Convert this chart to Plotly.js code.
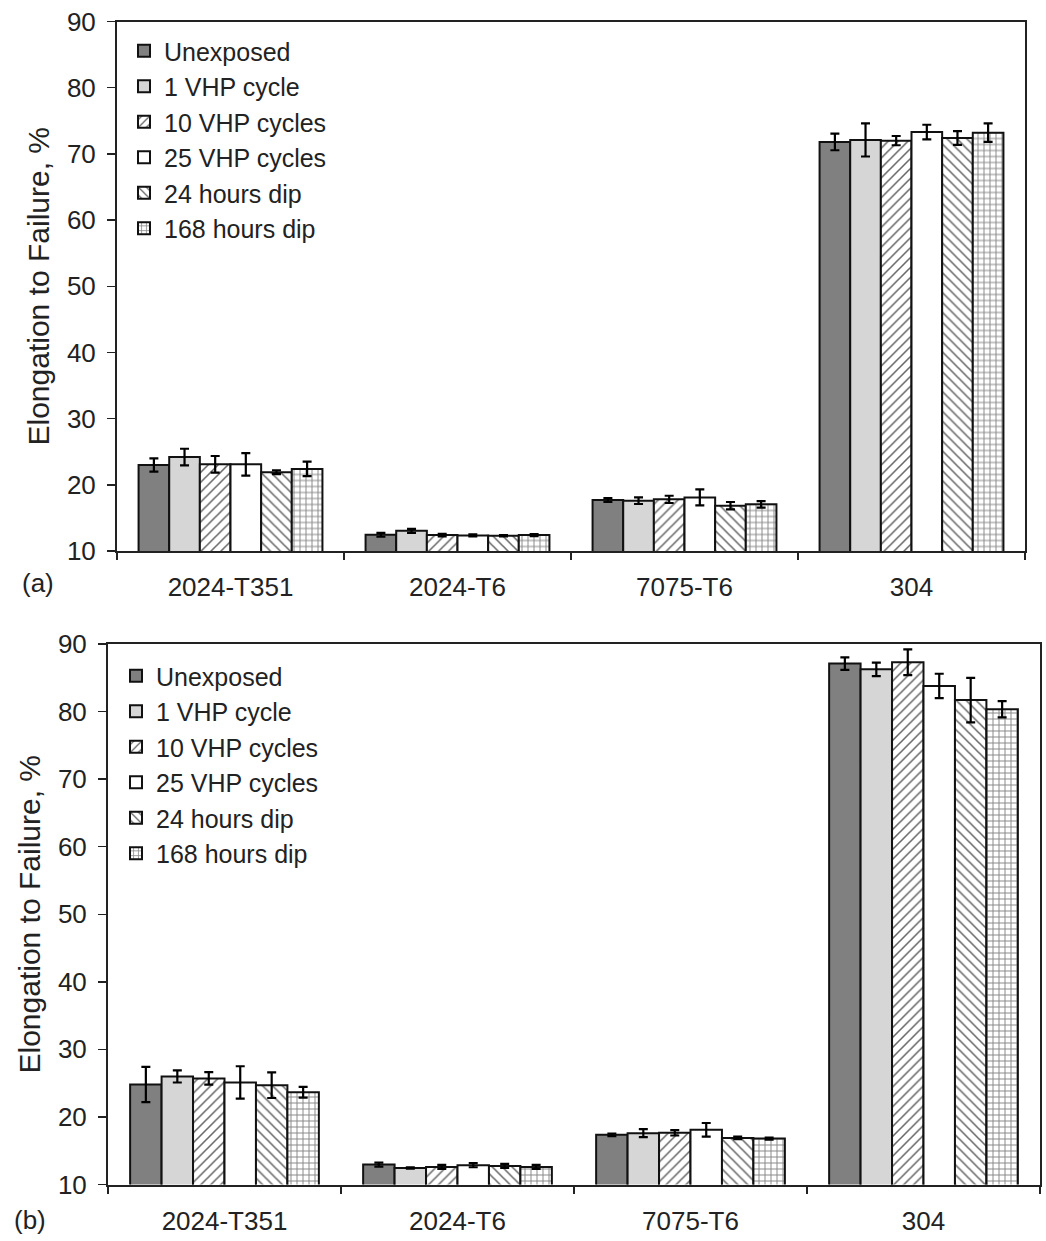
<!DOCTYPE html>
<html>
<head>
<meta charset="utf-8">
<script src="https://cdn.plot.ly/plotly-3.0.1.min.js"></script>
<style>
html,body{margin:0;padding:0;background:#fff;}
#chart{width:1046px;height:1241px;}
</style>
</head>
<body>
<div id="chart"></div>
<script>
// ---- data ----
const categories = ['2024-T351', '2024-T6', '7075-T6', '304'];
const seriesNames = ['Unexposed', '1 VHP cycle', '10 VHP cycles', '25 VHP cycles', '24 hours dip', '168 hours dip'];

// (a)
const unexposedA    = [23.0, 12.45, 17.7, 71.8];
const oneVhpA       = [24.2, 13.05, 17.6, 72.1];
const tenVhpA       = [23.1, 12.4, 17.8, 72.0];
const twentyFiveA   = [23.1, 12.35, 18.1, 73.3];
const dip24A        = [21.9, 12.3, 16.85, 72.4];
const dip168A       = [22.4, 12.4, 17.05, 73.2];
const errUnexposedA = [1.0, 0.3, 0.3, 1.25];
const errOneVhpA    = [1.25, 0.3, 0.5, 2.5];
const errTenVhpA    = [1.25, 0.2, 0.55, 0.7];
const errTwentyFiveA= [1.7, 0.15, 1.2, 1.1];
const errDip24A     = [0.3, 0.1, 0.55, 1.05];
const errDip168A    = [1.1, 0.15, 0.5, 1.4];

// (b)
const unexposedB    = [24.8, 12.95, 17.35, 87.1];
const oneVhpB       = [26.0, 12.45, 17.6, 86.25];
const tenVhpB       = [25.7, 12.6, 17.65, 87.3];
const twentyFiveB   = [25.1, 12.85, 18.1, 83.8];
const dip24B        = [24.7, 12.75, 16.9, 81.7];
const dip168B       = [23.65, 12.6, 16.8, 80.35];
const errUnexposedB = [2.6, 0.3, 0.2, 0.93];
const errOneVhpB    = [0.9, 0.1, 0.6, 1.0];
const errTenVhpB    = [0.93, 0.3, 0.4, 1.9];
const errTwentyFiveB= [2.4, 0.3, 1.0, 1.8];
const errDip24B     = [1.9, 0.3, 0.2, 3.3];
const errDip168B    = [0.8, 0.3, 0.15, 1.2];

const yTitle = 'Elongation to Failure, %';
const panelLabels = ['(a)', '(b)'];

// ---- styles ----
const FONT = 'Liberation Sans, Arial, sans-serif';
const styles = [
  {color: '#808080', pattern: {shape: ''}},
  {color: '#d6d6d6', pattern: {shape: ''}},
  {color: '#ffffff', pattern: {shape: '/', fgcolor: '#666', bgcolor: '#fff', size: 7, solidity: 0.22}},
  {color: '#ffffff', pattern: {shape: ''}},
  {color: '#ffffff', pattern: {shape: '\\', fgcolor: '#666', bgcolor: '#fff', size: 7, solidity: 0.22}},
  {color: '#ffffff', pattern: {shape: '+', fgcolor: '#888', bgcolor: '#fff', size: 6, solidity: 0.3}}
];

const valsA = [unexposedA, oneVhpA, tenVhpA, twentyFiveA, dip24A, dip168A];
const errsA = [errUnexposedA, errOneVhpA, errTenVhpA, errTwentyFiveA, errDip24A, errDip168A];
const valsB = [unexposedB, oneVhpB, tenVhpB, twentyFiveB, dip24B, dip168B];
const errsB = [errUnexposedB, errOneVhpB, errTenVhpB, errTwentyFiveB, errDip24B, errDip168B];

const traces = [];
function addPanel(vals, errs, xa, ya, legendId) {
  vals.forEach((v, i) => {
    traces.push({
      type: 'bar',
      name: seriesNames[i],
      x: categories,
      y: v,
      xaxis: xa,
      yaxis: ya,
      legend: legendId,
      marker: {
        color: styles[i].color,
        pattern: styles[i].pattern,
        line: {color: '#111', width: 2}
      },
      error_y: {type: 'data', array: errs[i], visible: true, color: '#000', thickness: 2.2, width: 4.5}
    });
  });
}
addPanel(valsA, errsA, 'x', 'y', 'legend');
addPanel(valsB, errsB, 'x2', 'y2', 'legend2');

const W = 1046, H = 1241;
const tickFont = {family: FONT, size: 26, color: '#222'};

function xAxis(l, r, anchor) {
  return {
    domain: [l / W, r / W], anchor: anchor, type: 'category',
    tickson: 'boundaries', ticks: 'outside', ticklen: 7, tickwidth: 1.5, tickcolor: '#222',
    ticklabelstandoff: 12,
    showline: true, linecolor: '#222', linewidth: 2, mirror: true,
    tickfont: tickFont, showgrid: false, zeroline: false, automargin: false
  };
}
function yAxis(top, bot, anchor, standoff) {
  return {
    domain: [1 - bot / H, 1 - top / H], anchor: anchor,
    range: [10, 90], dtick: 10, ticks: 'outside', ticklen: 8, tickwidth: 1.5, tickcolor: '#222',
    ticklabelstandoff: 6,
    showline: true, linecolor: '#222', linewidth: 2, mirror: true,
    tickfont: tickFont, showgrid: false, zeroline: false, automargin: false,
    title: {text: yTitle, font: {family: FONT, size: 30, color: '#222'}, standoff: standoff}
  };
}

const legendFont = {family: FONT, size: 25, color: '#222'};

const layout = {
  width: W, height: H,
  margin: {l: 0, r: 0, t: 0, b: 0},
  paper_bgcolor: '#fff', plot_bgcolor: '#fff',
  barmode: 'group', bargap: 0.19, bargroupgap: 0,
  showlegend: true,
  xaxis: xAxis(117, 1025, 'y'),
  yaxis: yAxis(21.5, 551, 'x', 8),
  xaxis2: xAxis(108, 1040, 'y2'),
  yaxis2: yAxis(644, 1184.5, 'x2', 8),
  legend: {x: 124 / W, y: 1 - 28 / H, xanchor: 'left', yanchor: 'top', bgcolor: 'rgba(0,0,0,0)', font: legendFont, tracegroupgap: 0, itemwidth: 30},
  legend2: {x: 116 / W, y: 1 - 653 / H, xanchor: 'left', yanchor: 'top', bgcolor: 'rgba(0,0,0,0)', font: legendFont, tracegroupgap: 0, itemwidth: 30},
  annotations: [
    {text: panelLabels[0], x: 20 / W, y: 1 - 583 / H, xref: 'paper', yref: 'paper', xanchor: 'left', yanchor: 'middle', showarrow: false, font: {family: FONT, size: 26, color: '#222'}},
    {text: panelLabels[1], x: 12 / W, y: 1 - 1220 / H, xref: 'paper', yref: 'paper', xanchor: 'left', yanchor: 'middle', showarrow: false, font: {family: FONT, size: 26, color: '#222'}}
  ]
};

Plotly.newPlot('chart', traces, layout, {displayModeBar: false, staticPlot: true});
</script>
</body>
</html>
